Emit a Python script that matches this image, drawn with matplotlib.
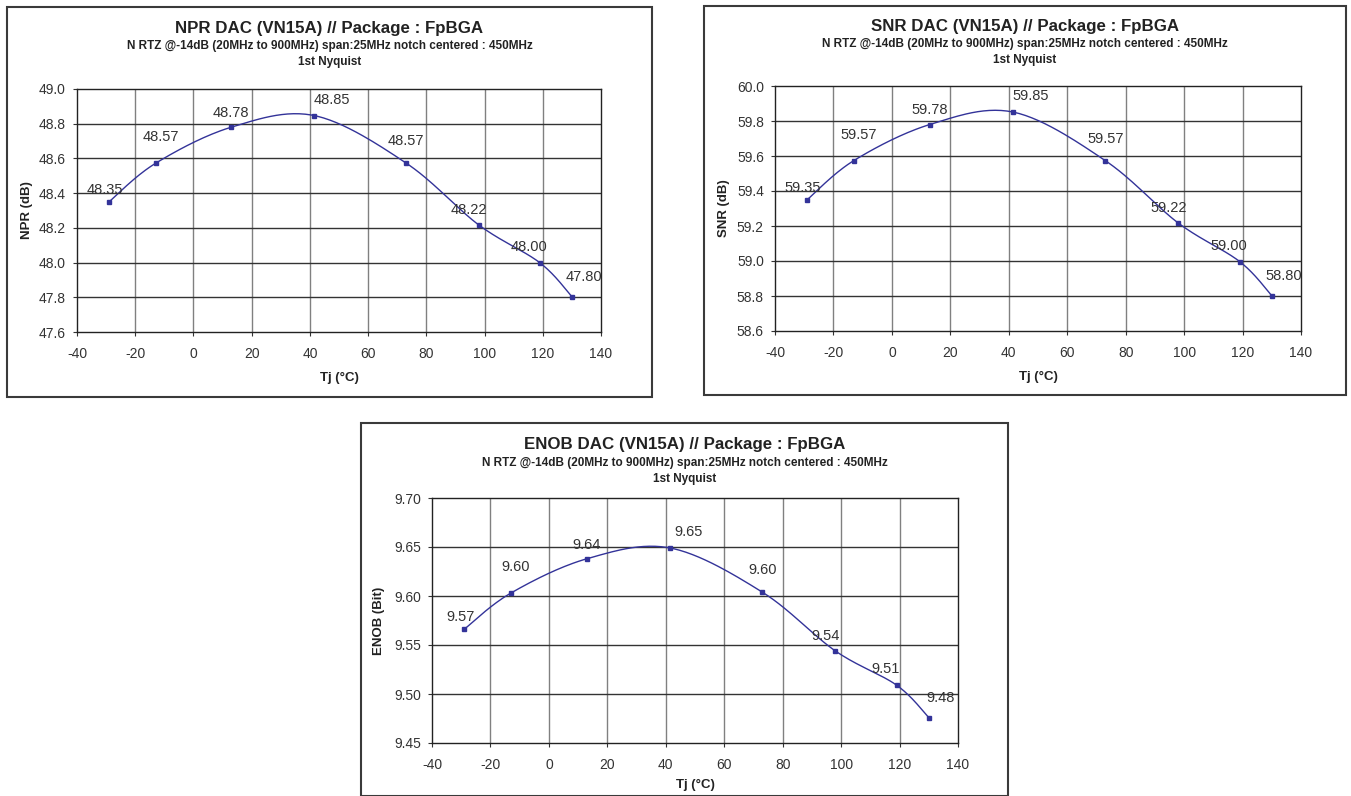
"""Three DAC performance charts (NPR, SNR, ENOB) versus junction temperature."""

import numpy as np
import matplotlib
matplotlib.use("Agg")
import matplotlib.pyplot as plt
from matplotlib.patches import Rectangle

plt.rcParams["font.family"] = ["Liberation Sans", "DejaVu Sans"]
plt.rcParams["axes.unicode_minus"] = False

W, H = 1351, 796

# data
tj = [-29, -13, 13, 41.5, 73, 98, 119, 130]
npr = [48.35, 48.572, 48.78, 48.847, 48.574, 48.217, 47.999, 47.804]
snr = [59.35, 59.574, 59.78, 59.851, 59.574, 59.217, 58.997, 58.802]
enob = [9.566, 9.603, 9.638, 9.649, 9.604, 9.544, 9.509, 9.476]

x_ticks = [-40, -20, 0, 20, 40, 60, 80, 100, 120, 140]
npr_ticks = [47.6, 47.8, 48.0, 48.2, 48.4, 48.6, 48.8, 49.0]
snr_ticks = [58.6, 58.8, 59.0, 59.2, 59.4, 59.6, 59.8, 60.0]
enob_ticks = [9.45, 9.50, 9.55, 9.60, 9.65, 9.70]

subtitle = "N RTZ @-14dB (20MHz to 900MHz) span:25MHz notch centered : 450MHz"
subtitle2 = "1st Nyquist"

# label offsets (pixels) relative to each point
lab_dx = [-4, 5, 0, 18, 0, -10, -11, 12]
lab_dy = [12, 26, 14, 16, 22, 15, 16, 20]

LINE = "#333399"
TXT = "#222222"


def smooth(x, y, n=30):
    """Excel-like smoothed line: cubic Bezier with Catmull-Rom control points."""
    p = np.column_stack([x, y]).astype(float)
    pts = np.vstack([p[0], p, p[-1]])
    t = np.linspace(0, 1, n)[:, None]
    out = []
    for i in range(1, len(pts) - 2):
        p0, p3 = pts[i], pts[i + 1]
        c1 = p0 + (pts[i + 1] - pts[i - 1]) / 6
        c2 = p3 - (pts[i + 2] - pts[i]) / 6
        seg = ((1 - t) ** 3) * p0 + 3 * ((1 - t) ** 2) * t * c1 + 3 * (1 - t) * t ** 2 * c2 + t ** 3 * p3
        out.append(seg)
    out = np.vstack(out)
    return out[:, 0], out[:, 1]


def fx(px):
    return px / W


def fy(py):
    return 1 - py / H


def plot_panel(fig, box, plot, title_y, ylab_x, xlab_off, title, ylabel, y, yticks, fmt, tick_fmt):
    bx0, by0, bx1, by1 = box
    fig.patches.append(Rectangle((fx(bx0), fy(by1)), (bx1 - bx0) / W, (by1 - by0) / H,
                                 transform=fig.transFigure, fill=False,
                                 ec="#3a3a3a", lw=1.5))
    px0, py0, px1, py1 = plot
    ax = fig.add_axes([fx(px0), fy(py1), (px1 - px0) / W, (py1 - py0) / H])

    cx = (bx0 + bx1) / 2
    fig.text(fx(cx), fy(title_y), title, ha="center", va="center",
             fontsize=12.2, fontweight="bold", color=TXT)
    fig.text(fx(cx), fy(title_y + 18), subtitle, ha="center", va="center",
             fontsize=8.5, fontweight="bold", color=TXT)
    fig.text(fx(cx), fy(title_y + 34), subtitle2, ha="center", va="center",
             fontsize=8.5, fontweight="bold", color=TXT)

    sx, sy = smooth(tj, y)
    ax.plot(sx, sy, color=LINE, lw=1.0, zorder=3)
    ax.plot(tj, y, ls="none", marker="s", ms=3.2, color=LINE, zorder=4)
    for xi, yi, dx, dy in zip(tj, y, lab_dx, lab_dy):
        ax.annotate(fmt.format(yi), (xi, yi), xytext=(dx, dy),
                    textcoords="offset pixels", ha="center", va="center",
                    fontsize=10.5, color="#333333", zorder=5)

    ax.set_xlim(x_ticks[0], x_ticks[-1])
    ax.set_ylim(yticks[0], yticks[-1])
    ax.set_xticks(x_ticks)
    ax.set_yticks(yticks)
    ax.set_yticklabels([tick_fmt.format(v) for v in yticks])
    ax.tick_params(axis="both", direction="out", length=3, width=0.8,
                   labelsize=10, labelcolor="#333333", color="#333333")
    ax.tick_params(axis="x", pad=8)
    ax.tick_params(axis="y", pad=5)
    for v in x_ticks[1:-1]:
        ax.axvline(v, color="#808080", lw=1.0, zorder=1)
    for v in yticks[1:-1]:
        ax.axhline(v, color="#333333", lw=1.0, zorder=1)
    for s in ax.spines.values():
        s.set_color("#222222")
        s.set_linewidth(1.0)

    fig.text(fx((px0 + px1) / 2), fy(py1 + xlab_off), "Tj (°C)", ha="center", va="center",
             fontsize=9.5, fontweight="bold", color=TXT)
    fig.text(fx(ylab_x), fy((py0 + py1) / 2), ylabel, ha="center", va="center",
             rotation=90, fontsize=9.5, fontweight="bold", color=TXT)
    return ax


fig = plt.figure(figsize=(W / 100, H / 100), dpi=100)
fig.patch.set_facecolor("white")

plot_panel(fig, (7, 7, 652, 397), (77, 89, 601, 332), 28, 27, 46,
           "NPR DAC (VN15A) // Package : FpBGA", "NPR (dB)", npr, npr_ticks,
           "{:.2f}", "{:.1f}")
plot_panel(fig, (704, 6, 1346, 395), (775, 86, 1301, 331), 26, 724, 46,
           "SNR DAC (VN15A) // Package : FpBGA", "SNR (dB)", snr, snr_ticks,
           "{:.2f}", "{:.1f}")
plot_panel(fig, (361, 423, 1008, 796), (432, 498, 958, 743), 445, 379, 42,
           "ENOB DAC (VN15A) // Package : FpBGA", "ENOB (Bit)", enob, enob_ticks,
           "{:.2f}", "{:.2f}")

fig.savefig("out.png", dpi=100)
